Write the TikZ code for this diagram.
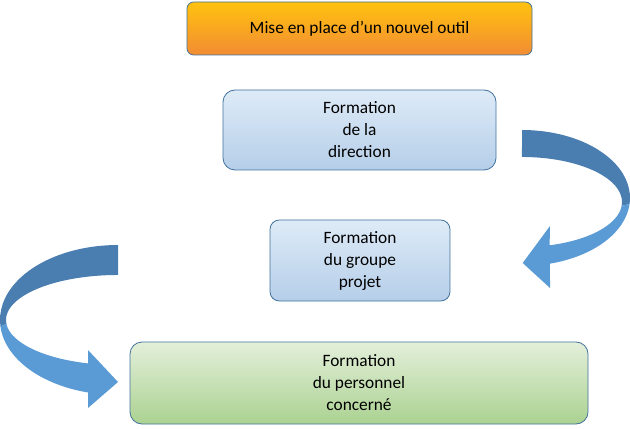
\documentclass[tikz,border=0pt]{standalone}
\usepackage{fontspec}
\setmainfont{Carlito}
\usetikzlibrary{positioning}
\definecolor{boxline}{HTML}{41719C}
\definecolor{arrowdark}{HTML}{4A7DB0}
\definecolor{arrowlight}{HTML}{5B9BD5}
\definecolor{orangetop}{HTML}{FFC20E}
\definecolor{orangebot}{HTML}{F28C34}
\definecolor{bluetop}{HTML}{DEEBF7}
\definecolor{bluebot}{HTML}{B5CEE9}
\definecolor{greentop}{HTML}{E3EFDA}
\definecolor{greenbot}{HTML}{ABD291}

\tikzset{
  stage/.style={draw=boxline, line width=0.6pt, rounded corners=9pt, inner sep=0pt,
    align=center, font=\fontsize{13}{16.5}\selectfont},
  orangebox/.style={stage, rounded corners=5pt, top color=orangetop, bottom color=orangebot},
  bluebox/.style={stage, top color=bluetop, bottom color=bluebot},
  greenbox/.style={stage, top color=greentop, bottom color=greenbot}
}

\begin{document}
\begin{tikzpicture}[x=0.75pt, y=0.75pt]
  \useasboundingbox (0,0) rectangle (630,428);

  % boxes
  \node[orangebox, minimum width=258.75pt, minimum height=39.75pt] (outil) at (359.5,399.5)
    {Mise en place d’un nouvel outil};
  \node[bluebox, minimum width=204.75pt, minimum height=60pt] (direction) at (359.5,298)
    {Formation\\de la\\direction};
  \node[bluebox, rounded corners=7pt, minimum width=135pt, minimum height=60.75pt] (groupe) at (360,167.5)
    {Formation\\du groupe\\projet};
  \node[greenbox, minimum width=343.5pt, minimum height=61.5pt] (personnel) at (359,45)
    {Formation\\du personnel\\concerné};

  % right curved arrow
  \fill[arrowdark] (522,298) arc[start angle=90, end angle=-5, x radius=108, y radius=68]
    -- (621.6,222.1) arc[start angle=-5, end angle=90, x radius=100, y radius=45] -- cycle;
  \fill[arrowlight] (629.6,224.1) arc[start angle=-5, end angle=-75, x radius=108, y radius=68]
    -- (550,140) -- (522.7,165) -- (550,202) -- (549.6,182.7)
    arc[start angle=-74, end angle=-5, x radius=100, y radius=45] -- cycle;

  % left curved arrow
  \fill[arrowdark] (118,183) arc[start angle=90, end angle=185, x radius=118, y radius=75]
    -- (6.43,104.1) arc[start angle=185, end angle=90, x radius=112, y radius=45] -- cycle;
  \fill[arrowlight] (0.45,101.5) arc[start angle=185, end angle=255.3, x radius=118, y radius=75]
    -- (88,20) -- (118,46) -- (88,78) -- (88.07,64.6)
    arc[start angle=254.5, end angle=185, x radius=112, y radius=45] -- cycle;
\end{tikzpicture}
\end{document}
